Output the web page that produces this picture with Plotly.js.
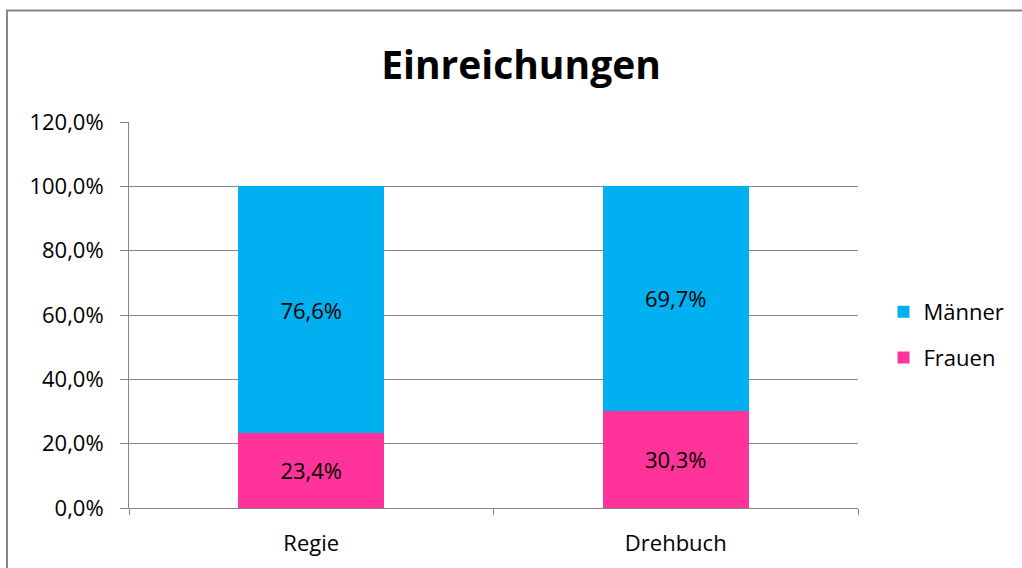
<!DOCTYPE html>
<html>
<head>
<meta charset="utf-8">
<script src="https://cdn.plot.ly/plotly-3.0.1.min.js"></script>
<style>
html,body{margin:0;padding:0;background:#fff;}
#chart{width:1022px;height:568px;}
</style>
</head>
<body>
<div id="chart"></div>
<script>
const categories = ["Regie", "Drehbuch"];
const frauen = [0.234, 0.303];
const maenner = [0.766, 0.697];
const seriesNames = ["Frauen", "Männer"];
const colors = ["#FF3399", "#00B0F0"];

const FONT = "Open Sans, Noto Sans, sans-serif";

const traces = [
  {
    type: "bar", name: seriesNames[0], x: categories, y: frauen,
    marker: {color: colors[0]},
    texttemplate: "%{y:.1%}", textposition: "inside", insidetextanchor: "middle",
    textfont: {family: FONT, size: 22, color: "#000"},
    legendgroup: "f", legendrank: 2, hoverinfo: "skip"
  },
  {
    type: "bar", name: seriesNames[1], x: categories, y: maenner,
    marker: {color: colors[1]},
    texttemplate: "%{y:.1%}", textposition: "inside", insidetextanchor: "middle",
    textfont: {family: FONT, size: 22, color: "#000"},
    legendgroup: "m", legendrank: 1, hoverinfo: "skip"
  }
];

const layout = {
  width: 1022, height: 568,
  margin: {l: 129, r: 164, t: 122, b: 60},
  paper_bgcolor: "#fff", plot_bgcolor: "#fff",
  separators: ",.",
  barmode: "stack",
  bargap: 0.6,
  font: {family: FONT, size: 22, color: "#000"},
  title: {
    text: "<b>Einreichungen</b>",
    font: {family: FONT, size: 39, color: "#000"},
    x: 521/1022, xanchor: "center", xref: "container",
    y: 1 - 65/568, yanchor: "middle", yref: "container"
  },
  xaxis: {
    type: "category",
    showline: true, linecolor: "#868686", linewidth: 1,
    ticks: "outside", tickson: "boundaries", ticklen: 6, tickcolor: "#868686",
    ticklabelstandoff: 16,
    showgrid: false, zeroline: false,
    tickfont: {family: FONT, size: 22, color: "#000"}
  },
  yaxis: {
    range: [0, 1.2], dtick: 0.2, tick0: 0, tickformat: ".1%",
    showline: true, linecolor: "#868686", linewidth: 1,
    ticks: "outside", ticklen: 8, tickcolor: "#868686",
    ticklabelstandoff: 12,
    showgrid: true, gridcolor: "#868686", gridwidth: 1,
    zeroline: false,
    tickfont: {family: FONT, size: 22, color: "#000"}
  },
  showlegend: true,
  legend: {
    traceorder: "grouped",
    tracegroupgap: 14,
    x: 1.035, xanchor: "left", y: 0.448, yanchor: "middle",
    font: {family: FONT, size: 22, color: "#000"},
    bgcolor: "rgba(0,0,0,0)"
  },
  shapes: [
    {
      type: "rect", xref: "paper", yref: "paper",
      x0: (7 - 129)/729, x1: (1030 - 129)/729,
      y0: (508 - 580)/386, y1: (508 - 10.5)/386,
      line: {color: "#868686", width: 2}, fillcolor: "rgba(0,0,0,0)", layer: "below"
    }
  ]
};

Plotly.newPlot("chart", traces, layout, {staticPlot: true, displayModeBar: false});
</script>
</body>
</html>
